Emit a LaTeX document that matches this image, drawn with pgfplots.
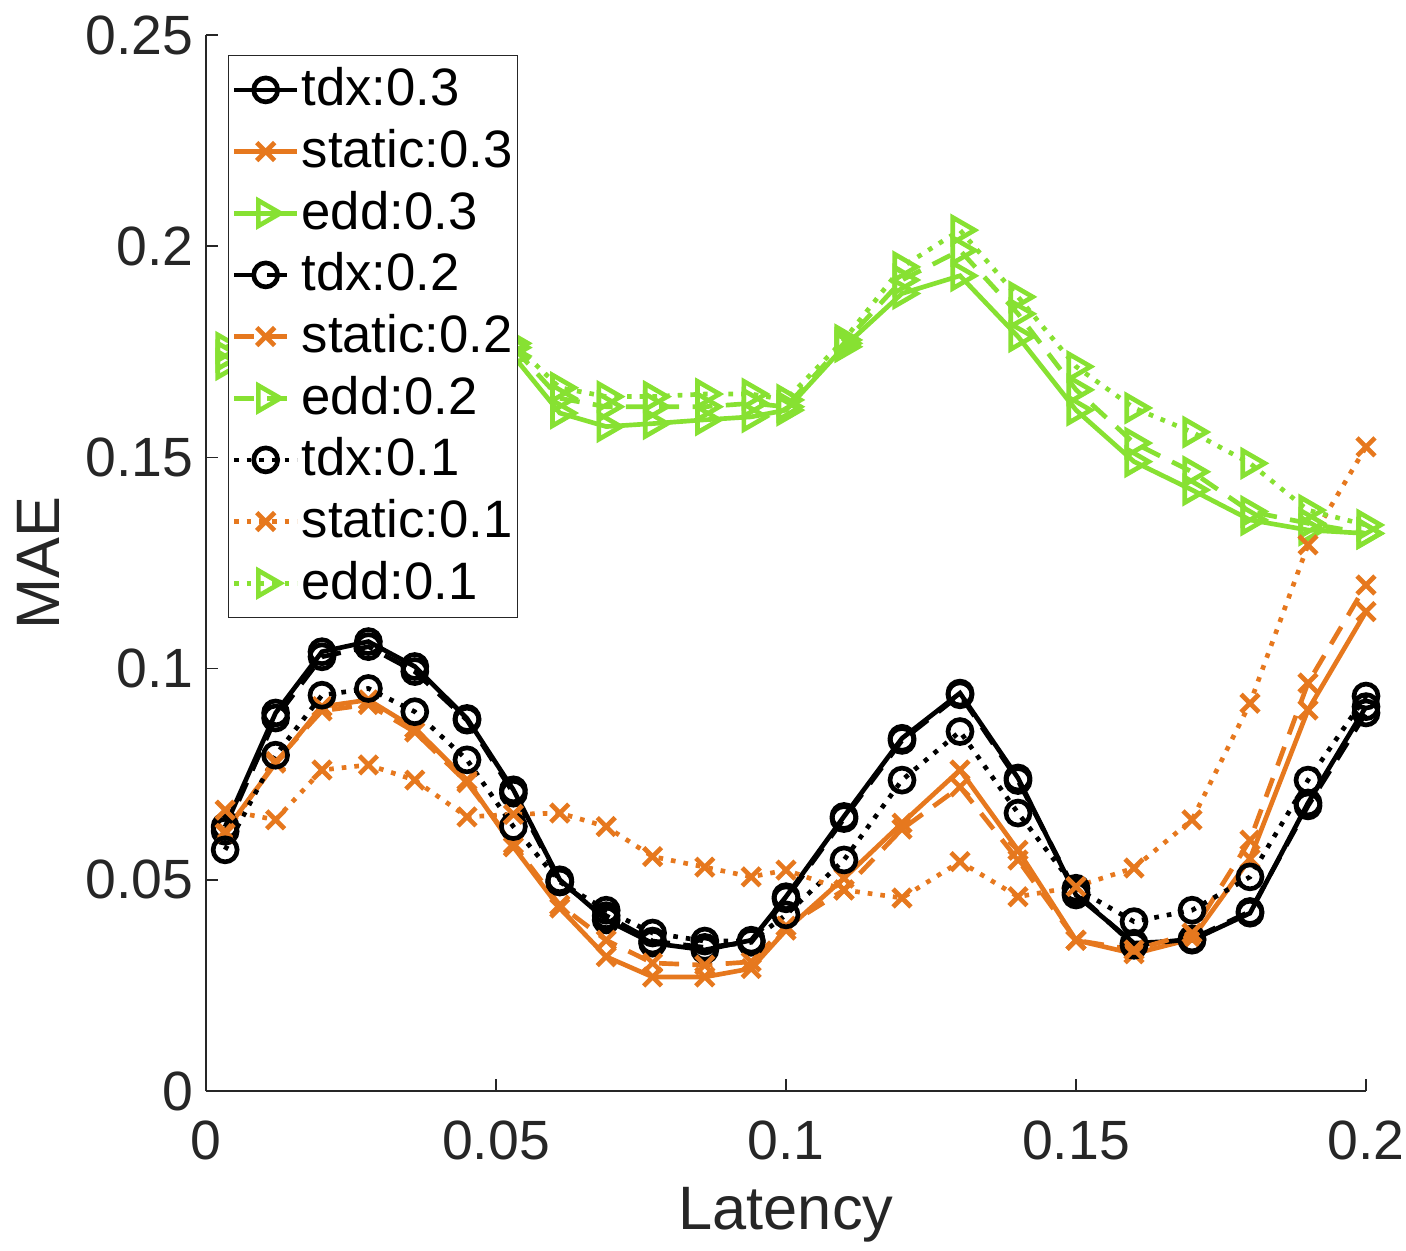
\documentclass[border=0pt]{standalone}
\usepackage{pgfplots}
\pgfplotsset{compat=1.18}
\usepackage{pgfplotstable}
\usepackage{fontspec}
\setmainfont{Liberation Sans}
\definecolor{txt}{HTML}{262626}
\definecolor{cor}{RGB}{230,120,30}
\definecolor{cgr}{RGB}{135,225,50}
\pgfplotstableread{
x       t3     t2     t1     s3     s2     s1     e3     e2     e1
0.0033 0.0626 0.0615 0.0571 0.0615 0.0610 0.0665 0.1720 0.1740 0.1760
0.012  0.0895 0.0883 0.0795 0.0776 0.0780 0.0642 0.1770 0.1790 0.1810
0.020  0.1040 0.1028 0.0937 0.0910 0.0900 0.0760 0.1800 0.1820 0.1840
0.028  0.1064 0.1052 0.0953 0.0926 0.0915 0.0772 0.1810 0.1830 0.1850
0.036  0.1005 0.0993 0.0898 0.0859 0.0850 0.0736 0.1800 0.1820 0.1830
0.045  0.0882 0.0878 0.0784 0.0736 0.0730 0.0649 0.1770 0.1790 0.1800
0.053  0.0713 0.0705 0.0626 0.0578 0.0585 0.0655 0.1740 0.1760 0.1770
0.061  0.0500 0.0495 0.0495 0.0433 0.0440 0.0658 0.1605 0.1640 0.1665
0.069  0.0405 0.0415 0.0428 0.0318 0.0357 0.0626 0.1573 0.1620 0.1644
0.077  0.0350 0.0355 0.0374 0.0270 0.0303 0.0555 0.1580 0.1620 0.1644
0.086  0.0334 0.0340 0.0355 0.0270 0.0298 0.0530 0.1589 0.1620 0.1650
0.094  0.0357 0.0352 0.0355 0.0290 0.0306 0.0507 0.1596 0.1628 0.1650
0.100  0.0460 0.0455 0.0417 0.0381 0.0390 0.0523 0.1612 0.1620 0.1636
0.110  0.0650 0.0645 0.0547 0.0504 0.0476 0.0476 0.1762 0.1770 0.1778
0.120  0.0835 0.0830 0.0736 0.0634 0.0620 0.0457 0.1888 0.1920 0.1951
0.130  0.0942 0.0938 0.0851 0.0760 0.0720 0.0543 0.1930 0.1990 0.2038
0.140  0.0741 0.0735 0.0658 0.0570 0.0547 0.0460 0.1786 0.1840 0.1880
0.150  0.0464 0.0470 0.0480 0.0357 0.0357 0.0484 0.1612 0.1660 0.1715
0.160  0.0350 0.0345 0.0401 0.0325 0.0334 0.0528 0.1490 0.1534 0.1617
0.170  0.0357 0.0360 0.0428 0.0360 0.0374 0.0642 0.1423 0.1466 0.1560
0.180  0.0421 0.0425 0.0507 0.0550 0.0594 0.0918 0.1352 0.1372 0.1486
0.190  0.0682 0.0675 0.0736 0.0902 0.0966 0.1293 0.1328 0.1344 0.1375
0.200  0.0910 0.0895 0.0935 0.1135 0.1198 0.1525 0.1320 0.1320 0.1340
}\data
\begin{document}
\begin{tikzpicture}
\begin{axis}[
  name=ax,
  scale only axis,
  width=348pt, height=316.8pt,
  xmin=0, xmax=0.2, ymin=0, ymax=0.25,
  axis lines*=left,
  axis line style={txt, line width=0.5pt},
  tick align=inside,
  major tick length=3.5pt,
  tick style={txt, line width=0.5pt},
  xtick={0,0.05,0.1,0.15,0.2},
  xticklabels={0,0.05,0.1,0.15,0.2},
  ytick={0,0.05,0.1,0.15,0.2,0.25},
  yticklabels={0,0.05,0.1,0.15,0.2,0.25},
  tick label style={font=\fontsize{16.6}{19}\selectfont, text=txt},
  xticklabel style={anchor=center, yshift=-14.7pt},
  yticklabel style={anchor=east, xshift=-0.3pt},
  xlabel={Latency}, ylabel={MAE},
  label style={font=\fontsize{18.4}{22}\selectfont, text=txt},
  xlabel style={at={(axis description cs:0.5,-0.1174)}, anchor=center},
  ylabel style={at={(axis description cs:-0.1448,0.5)}, anchor=center},
  legend style={at={(rel axis cs:0.019,0.981)}, anchor=north west,
    font=\fontsize{15.8}{18.6}\selectfont, draw=txt, line width=0.4pt,
    fill=white, inner xsep=0.9pt, inner ysep=1pt,
    nodes={inner ysep=2.5pt, inner xsep=0.6pt, text height=11.5pt, text depth=2pt}},
  legend cell align=left,
  legend image code/.code={%
    \draw[mark repeat=2,mark phase=2] plot coordinates {(0pt,0pt)(9.5pt,0pt)(19pt,0pt)};},
  every axis plot/.append style={line width=1.4pt},
  clip=false,
]
\addplot[black, solid, mark=o, mark size=3.6pt, mark options={solid}] table[x=x,y=t3]{\data};
\addlegendentry{tdx:0.3}
\addplot[cor, solid, mark=x, mark size=3.8pt, mark options={solid}] table[x=x,y=s3]{\data};
\addlegendentry{static:0.3}
\addplot[cgr, solid, mark=triangle, mark size=4.4pt, mark options={solid, rotate=-90}] table[x=x,y=e3]{\data};
\addlegendentry{edd:0.3}
\addplot[black, dash pattern=on 6pt off 4pt, mark=o, mark size=3.6pt, mark options={solid}] table[x=x,y=t2]{\data};
\addlegendentry{tdx:0.2}
\addplot[cor, dash pattern=on 6pt off 4pt, mark=x, mark size=3.8pt, mark options={solid}] table[x=x,y=s2]{\data};
\addlegendentry{static:0.2}
\addplot[cgr, dash pattern=on 6pt off 4pt, mark=triangle, mark size=4.4pt, mark options={solid, rotate=-90}] table[x=x,y=e2]{\data};
\addlegendentry{edd:0.2}
\addplot[black, dash pattern=on 1.4pt off 2.4pt, mark=o, mark size=3.6pt, mark options={solid}] table[x=x,y=t1]{\data};
\addlegendentry{tdx:0.1}
\addplot[cor, dash pattern=on 1.4pt off 2.4pt, mark=x, mark size=3.8pt, mark options={solid}] table[x=x,y=s1]{\data};
\addlegendentry{static:0.1}
\addplot[cgr, dash pattern=on 1.4pt off 2.4pt, mark=triangle, mark size=4.4pt, mark options={solid, rotate=-90}] table[x=x,y=e1]{\data};
\addlegendentry{edd:0.1}
\coordinate (bl) at (rel axis cs:0,0);
\coordinate (tr) at (rel axis cs:1,1);
\end{axis}
\pgfresetboundingbox
\path[use as bounding box] ([shift={(-61.8pt,-47.7pt)}]bl) rectangle ([shift={(12pt,10.5pt)}]tr);
\end{tikzpicture}
\end{document}
